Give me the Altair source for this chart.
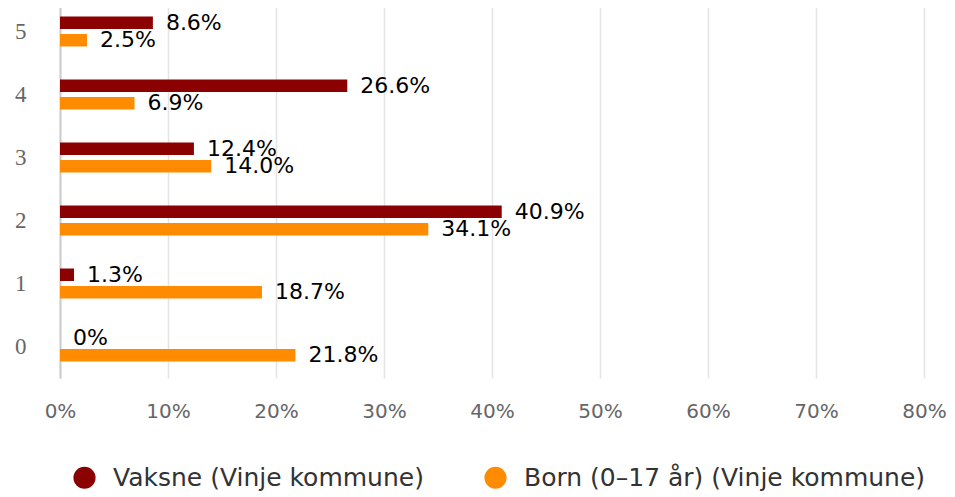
import altair as alt
import pandas as pd

categories = ["5", "4", "3", "2", "1", "0"]
series_names = ["Vaksne (Vinje kommune)", "Born (0–17 år) (Vinje kommune)"]
vaksne = [8.6, 26.6, 12.4, 40.9, 1.3, 0.0]
born = [2.5, 6.9, 14.0, 34.1, 18.7, 21.8]
colors = ["#8b0000", "#ff8c00"]
x_ticks = [0, 10, 20, 30, 40, 50, 60, 70, 80]

rows = []
for c, v in zip(categories, vaksne):
    rows.append({"cat": c, "series": series_names[0], "value": v})
for c, v in zip(categories, born):
    rows.append({"cat": c, "series": series_names[1], "value": v})
df = pd.DataFrame(rows)

FONT = "DejaVu Sans"

y_enc = alt.Y("cat:N", sort=categories, title=None,
              scale=alt.Scale(paddingInner=0, paddingOuter=0),
              axis=alt.Axis(ticks=False, labelPadding=34, labelFont="Liberation Serif",
                            labelFontSize=23, labelColor="#666666", domainColor="#cccccc",
                            domainWidth=2, grid=False))
yoff = alt.YOffset("series:N", sort=series_names,
                   scale=alt.Scale(paddingInner=0.286, paddingOuter=0.943))

base = alt.Chart(df).encode(y=y_enc, yOffset=yoff)

bars = base.mark_bar().encode(
    x=alt.X("value:Q", title=None,
            scale=alt.Scale(domain=[0, 80], nice=False),
            axis=alt.Axis(values=x_ticks, labelExpr="datum.value + '%'", ticks=False,
                          labelFlush=False, domain=False, labelPadding=23, labelFont=FONT,
                          labelFontSize=20, labelColor="#666666", gridColor="#e4e4e4",
                          gridWidth=1.5)),
    color=alt.Color("series:N", sort=series_names,
                    scale=alt.Scale(domain=series_names, range=colors),
                    legend=alt.Legend(title=None, orient="none", direction="horizontal",
                                      legendX=12, legendY=465, symbolType="circle",
                                      symbolSize=490, symbolStrokeWidth=0, labelLimit=0,
                                      labelFont=FONT, labelFontSize=25, labelColor="#333333",
                                      labelOffset=16, columnPadding=59, padding=0)),
)

labels = base.mark_text(align="left", baseline="middle", dx=13, font=FONT,
                        fontSize=22, color="#000000").encode(
    x="value:Q",
    text="label:N",
).transform_calculate(
    label="datum.value == 0 ? '0%' : format(datum.value, '.1f') + '%'"
)

chart = (bars + labels).properties(
    width=864, height=378,
    padding={"left": 52, "top": -8, "right": 23, "bottom": 119},
    autosize=alt.AutoSizeParams(type="none"),
).configure_view(stroke=None)

chart.save("out.html", embed_options={"renderer": "svg", "actions": False})
